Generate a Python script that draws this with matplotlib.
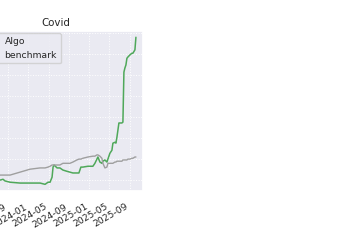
import pandas as pd
import matplotlib
matplotlib.use("Agg")
import matplotlib.pyplot as plt
import matplotlib.dates as mdates
from matplotlib.ticker import MultipleLocator
import seaborn as sns

# values (portfolio value, start = 1.0)
dates = [
    "2023-03-05", "2023-05-16", "2023-07-15", "2023-08-02", "2023-08-14",
    "2023-09-13", "2023-11-12", "2024-01-11", "2024-03-11", "2024-04-10",
    "2024-04-28", "2024-05-10", "2024-05-22", "2024-05-28", "2024-06-03",
    "2024-06-21", "2024-07-08", "2024-07-26", "2024-08-19", "2024-09-06",
    "2024-09-24", "2024-10-18", "2024-10-30", "2024-11-11", "2024-11-23",
    "2024-12-23", "2025-01-22", "2025-02-03", "2025-02-15", "2025-02-21",
    "2025-03-05", "2025-03-17", "2025-03-23", "2025-04-04", "2025-04-16",
    "2025-04-22", "2025-05-04", "2025-05-16", "2025-05-22", "2025-06-03",
    "2025-06-09", "2025-06-15", "2025-06-21", "2025-06-27", "2025-07-15",
    "2025-07-21", "2025-07-27", "2025-08-02", "2025-08-08", "2025-08-14",
    "2025-08-20", "2025-09-01", "2025-09-13", "2025-09-19", "2025-10-01",
    "2025-10-07",
]
algo = [
    1.00, 1.02, 1.00, 1.02, 0.98,
    0.95, 0.93, 0.93, 0.93, 0.90,
    0.95, 0.95, 1.07, 1.31, 1.36,
    1.29, 1.29, 1.24, 1.21, 1.19,
    1.17, 1.17, 1.17, 1.31, 1.31,
    1.33, 1.33, 1.40, 1.50, 1.55,
    1.43, 1.40, 1.45, 1.48, 1.43,
    1.50, 1.64, 1.71, 1.88, 1.90,
    1.88, 2.02, 2.19, 2.36, 2.36,
    2.38, 3.57, 3.67, 3.74, 3.90,
    3.93, 3.98, 4.02, 4.02, 4.10,
    4.40,
]
benchmark = [
    1.05, 1.07, 1.12, 1.12, 1.12,
    1.12, 1.19, 1.26, 1.29, 1.29,
    1.31, 1.33, 1.36, 1.36, 1.36,
    1.36, 1.36, 1.40, 1.40, 1.40,
    1.43, 1.48, 1.50, 1.50, 1.52,
    1.55, 1.57, 1.57, 1.60, 1.60,
    1.57, 1.52, 1.40, 1.29, 1.31,
    1.40, 1.40, 1.40, 1.40, 1.43,
    1.43, 1.45, 1.45, 1.45, 1.45,
    1.48, 1.48, 1.48, 1.48, 1.48,
    1.50, 1.50, 1.52, 1.52, 1.55,
    1.55,
]

sns.set_theme(style="darkgrid")
plt.rcParams["font.family"] = ["DejaVu Sans"]

df = pd.DataFrame({"algo": algo, "benchmark": benchmark}, index=pd.to_datetime(dates))

fig = plt.figure(figsize=(3.6, 2.4), dpi=100)
ax = fig.add_axes([-0.086, 0.204, 0.483, 0.667])

ax.plot(df.index, df["algo"], color="#4fa85a", lw=1.1, label="Algo")
ax.plot(df.index, df["benchmark"], color="#9f9f9f", lw=1.0, label="benchmark")

ax.set_xlim(pd.Timestamp("2023-01-10"), pd.Timestamp("2025-11-18"))
ax.set_ylim(0.74, 4.55)
ax.yaxis.set_major_locator(MultipleLocator(0.5))
ax.xaxis.set_major_locator(mdates.MonthLocator(bymonth=[1, 5, 9]))
ax.xaxis.set_major_formatter(mdates.DateFormatter("%Y-%m"))
ax.grid(True, color="white", linestyle=":", linewidth=0.7)

ax.set_title("Covid", fontsize=7.4, pad=3.6)
ax.tick_params(axis="both", labelsize=6.7, pad=2)
plt.setp(ax.get_xticklabels(), rotation=30, ha="right")
ax.legend(loc="upper left", fontsize=6.7, borderaxespad=0.25,
          bbox_to_anchor=(0.02, 1.0))

fig.savefig("out.png", dpi=100)
